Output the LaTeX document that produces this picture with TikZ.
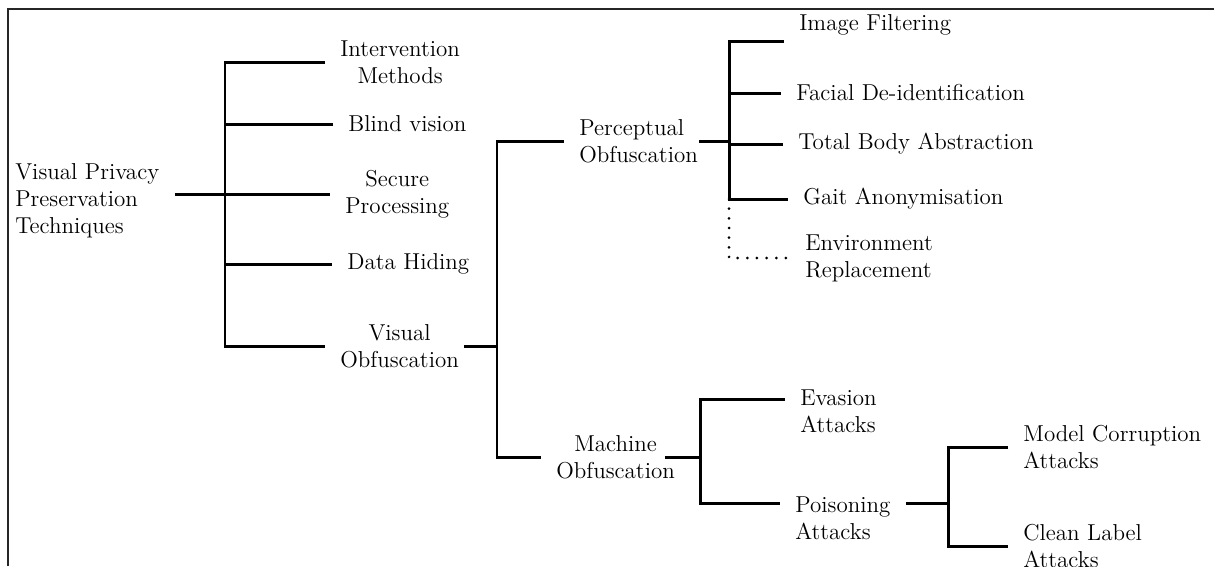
\documentclass[tikz,border=0pt]{standalone}
\usepackage{fontspec}
\begin{document}
\begin{tikzpicture}[x=0.02cm, y=-0.02cm, every node/.style={font=\fontsize{13.1}{15.3}\selectfont}]
\tikzset{
  br/.style={line width=1.7pt},
  dotbr/.style={line width=1.7pt, dash pattern=on 0pt off 5.5pt, line cap=round},
  frm/.style={line width=1pt, draw=black!85},
  lab/.style={inner xsep=0.3cm, inner ysep=0.1cm, anchor=west},
  ctr/.style={lab, align=center},
  lft/.style={lab, align=left}
}
\useasboundingbox (0,0) rectangle (1214,566);

% --- frame ---
\draw[frm] (8,566) -- (8,9) -- (1214,9);

% --- root ---
\node[lft] (r) at (0,201) {Visual Privacy\\Preservation\\Techniques};

% --- first level ---
\node[ctr] (a1) at (325,62) {Intervention\\Methods};
\node[ctr] (a2) at (333,124) {Blind vision};
\node[ctr] (a3) at (330,194) {Secure\\Processing};
\node[ctr] (a4) at (332,264) {Data Hiding};
\node[ctr] (a5) at (325,346) {Visual\\Obfuscation};
\coordinate (k1) at (225,0);
\draw[br] (a1.west) -- (k1 |- a1.west) -- (k1 |- a5.west) -- (a5.west);
\foreach \n in {a2,a3,a4}
  \draw[br] (k1 |- \n.west) -- (\n.west);
\draw[br] ([yshift=0.14cm]r.east) -- ([yshift=0.14cm]r.east -| k1);

% --- visual obfuscation ---
\node[lft] (b1) at (564,141) {Perceptual\\Obfuscation};
\node[ctr] (b2) at (541,457) {Machine\\Obfuscation};
\coordinate (k2) at (497,0);
\draw[br] (b1.west) -- (k2 |- b1.west) -- (k2 |- b2.west) -- (b2.west);
\draw[br] ([xshift=-0.2cm]a5.east) -- (a5.east -| k2);

% --- perceptual obfuscation ---
\node[lab, anchor=south west] (c1) at (784,41) {Image Filtering};
\node[lab] (c2) at (781,93) {Facial De-identification};
\node[lab] (c3) at (783,144) {Total Body Abstraction};
\node[lab] (c4) at (788,199) {Gait Anonymisation};
\node[lft] (c5) at (790,258) {Environment\\Replacement};
\coordinate (k3) at (729,0);
\draw[br] (c1.south west) -- (k3 |- c1.south west) -- (k3 |- c4.west) -- (c4.west);
\foreach \n in {c2,c3}
  \draw[br] (k3 |- \n.west) -- (\n.west);
\draw[dotbr] (k3 |- c4.west) -- (k3 |- c5.west) -- (c5.west);
\draw[br] ([xshift=-0.28cm]b1.east) -- (b1.east -| k3);

% --- machine obfuscation ---
\node[lft] (d1) at (785,411) {Evasion\\Attacks};
\node[lft] (d2) at (780,518) {Poisoning\\Attacks};
\coordinate (d1w) at ([yshift=0.24cm]d1.west);
\coordinate (d2w) at ([yshift=0.3cm]d2.west);
\coordinate (k4) at (700,0);
\draw[br] (d1w) -- (k4 |- d1w) -- (k4 |- d2w) -- (d2w);
\draw[br] ([xshift=-0.5cm]b2.east) -- (b2.east -| k4);

% --- poisoning attacks ---
\node[lft] (e1) at (1008,447) {Model Corruption\\Attacks};
\node[lft] (e2) at (1008,546) {Clean Label\\Attacks};
\coordinate (k5) at (948,0);
\draw[br] (e1.west) -- (k5 |- e1.west) -- (k5 |- e2.west) -- (e2.west);
\draw[br] (d2.east |- d2w) -- (k5 |- d2w);
\end{tikzpicture}
\end{document}
